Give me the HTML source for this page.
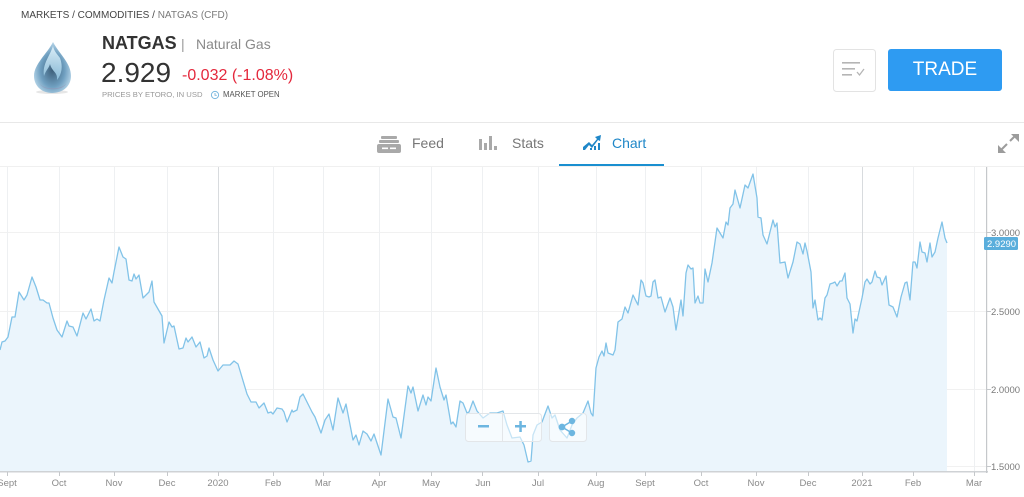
<!DOCTYPE html>
<html><head><meta charset="utf-8">
<style>
*{margin:0;padding:0;box-sizing:border-box}
html,body{width:1024px;height:497px;overflow:hidden;background:#fff;font-family:"Liberation Sans",sans-serif}
.a{position:absolute;white-space:nowrap}
</style></head><body>
<svg class="a" style="left:0;top:0" width="1024" height="497" viewBox="0 0 1024 497">
  <defs>
    <radialGradient id="dg" cx="50%" cy="55%" r="60%">
      <stop offset="0" stop-color="#3d5f7a"/>
      <stop offset="0.55" stop-color="#6f9fc0"/>
      <stop offset="1" stop-color="#c8e3f3"/>
    </radialGradient>
    <linearGradient id="fl" x1="0" y1="0" x2="0" y2="1">
      <stop offset="0" stop-color="#e3f3fb"/>
      <stop offset="1" stop-color="#8fc3e0"/>
    </linearGradient>
  </defs>
  <!-- drop icon -->
  <ellipse cx="52" cy="92" rx="16" ry="2" fill="#e6e6e6"/>
  <path d="M53,42 C47,54 34,64 34,76 C34,86 42,93 52,93 C63,93 71,86 71,76 C71,63 60,55 53,42 Z" fill="url(#dg)"/>
  <path d="M53,46 C50,56 42,64 44,76 C46,70 49,68 50,64 C52,72 58,72 57,80 C62,74 63,66 60,58 C57,54 54,51 53,46 Z" fill="url(#fl)" opacity="0.9"/>
  <path d="M40,84 C45,90 60,90 66,84 C62,91 44,91 40,84 Z" fill="#9a8fb0" opacity="0.6"/>

  <!-- header divider -->
  <rect x="0" y="122" width="1024" height="1" fill="#e8e8e8"/>
  <!-- tab underline -->
  <rect x="559" y="164" width="105" height="2" fill="#1a8fd0"/>
  <!-- chart top border -->
  <rect x="0" y="166" width="1024" height="1" fill="#f0f0f0"/>

  <!-- horizontal grid -->
  <g fill="#f1f1f1">
    <rect x="0" y="232" width="987" height="1"/>
    <rect x="0" y="311" width="987" height="1"/>
    <rect x="0" y="389" width="987" height="1"/>
    <rect x="0" y="466" width="987" height="1"/>
  </g>
  <!-- vertical grid -->
  <g fill="#eef0f2">
    <rect x="7" y="167" width="1" height="305"/>
    <rect x="59" y="167" width="1" height="305"/>
    <rect x="114" y="167" width="1" height="305"/>
    <rect x="167" y="167" width="1" height="305"/>
    <rect x="273" y="167" width="1" height="305"/>
    <rect x="323" y="167" width="1" height="305"/>
    <rect x="379" y="167" width="1" height="305"/>
    <rect x="431" y="167" width="1" height="305"/>
    <rect x="482" y="167" width="1" height="305"/>
    <rect x="538" y="167" width="1" height="305"/>
    <rect x="596" y="167" width="1" height="305"/>
    <rect x="645" y="167" width="1" height="305"/>
    <rect x="701" y="167" width="1" height="305"/>
    <rect x="756" y="167" width="1" height="305"/>
    <rect x="808" y="167" width="1" height="305"/>
    <rect x="913" y="167" width="1" height="305"/>
    <rect x="974" y="167" width="1" height="305"/>
  </g>
  <g fill="#d8dbde">
    <rect x="218" y="167" width="1" height="305"/>
    <rect x="862" y="167" width="1" height="305"/>
  </g>

  <!-- series -->
  <polygon fill="#ebf5fc" points="0,350 2,342 5,341 8,337 12,317 15,317 19,292 24,300 27,295 32,277 36,287 40,300 43,300 47,303 49,303 53,318 57,330 62,337 67,321 69,326 73,327 77,336 83,313 86,319 91,309 94,321 97,319 100,321 104,300 109,278 112,283 114,272 119,247 123,257 126,259 129,280 132,281 134,274 136,279 139,275 143,298 147,294 149,292 152,281 154,302 162,316 164,343 169,322 172,327 174,326 179,349 183,348 186,338 188,342 192,337 196,347 200,342 204,358 207,356 209,348 213,360 218,371 223,365 230,365 234,361 238,364 247,394 251,402 256,402 259,408 264,403 268,413 271,412 273,414 277,408 282,409 284,412 287,422 292,410 293,412 297,410 300,397 303,394 307,402 312,412 315,417 321,433 325,420 329,414 333,430 338,398 343,413 346,404 353,440 356,435 359,445 363,431 367,434 371,441 374,434 381,455 388,399 393,417 396,418 401,438 408,386 411,393 413,387 418,411 423,395 426,405 428,397 431,401 436,368 440,387 444,400 446,395 451,424 453,422 456,427 460,401 463,403 467,413 469,412 473,401 477,411 483,418 490,413 497,413 503,411 507,425 512,438 520,437 524,445 528,462 531,461 533,435 537,425 542,422 548,406 552,418 555,415 560,430 567,438 572,425 577,418 583,413 588,401 591,413 593,416 596,368 599,357 602,351 604,356 606,343 608,353 613,355 615,350 618,322 622,319 625,307 628,313 633,295 638,305 641,280 643,283 646,296 649,297 651,296 653,282 655,280 658,298 661,297 665,312 670,298 673,307 676,330 681,300 683,316 686,273 688,265 691,269 693,268 695,303 698,296 700,303 703,303 705,269 708,282 712,263 717,228 723,238 726,222 728,225 730,208 733,204 735,190 740,208 745,185 748,188 753,174 757,198 758,217 761,218 763,235 767,244 773,220 775,227 777,223 780,263 785,262 788,278 793,262 797,242 800,244 803,254 805,243 807,251 811,272 813,308 815,300 818,320 820,318 822,320 825,298 827,295 830,284 833,283 835,282 837,286 840,281 842,281 845,273 847,298 850,304 853,333 855,319 857,321 862,298 865,282 867,279 870,284 872,282 875,271 877,277 880,278 882,285 886,276 889,305 893,307 897,317 901,297 905,283 907,282 910,300 913,262 915,262 917,268 920,242 922,252 925,253 927,262 930,243 932,257 935,252 938,238 942,222 945,238 947,243 947,471 0,471"/>
  <polyline fill="none" stroke="#82c3e8" stroke-width="1.3" stroke-linejoin="round" points="0,350 2,342 5,341 8,337 12,317 15,317 19,292 24,300 27,295 32,277 36,287 40,300 43,300 47,303 49,303 53,318 57,330 62,337 67,321 69,326 73,327 77,336 83,313 86,319 91,309 94,321 97,319 100,321 104,300 109,278 112,283 114,272 119,247 123,257 126,259 129,280 132,281 134,274 136,279 139,275 143,298 147,294 149,292 152,281 154,302 162,316 164,343 169,322 172,327 174,326 179,349 183,348 186,338 188,342 192,337 196,347 200,342 204,358 207,356 209,348 213,360 218,371 223,365 230,365 234,361 238,364 247,394 251,402 256,402 259,408 264,403 268,413 271,412 273,414 277,408 282,409 284,412 287,422 292,410 293,412 297,410 300,397 303,394 307,402 312,412 315,417 321,433 325,420 329,414 333,430 338,398 343,413 346,404 353,440 356,435 359,445 363,431 367,434 371,441 374,434 381,455 388,399 393,417 396,418 401,438 408,386 411,393 413,387 418,411 423,395 426,405 428,397 431,401 436,368 440,387 444,400 446,395 451,424 453,422 456,427 460,401 463,403 467,413 469,412 473,401 477,411 483,418 490,413 497,413 503,411 507,425 512,438 520,437 524,445 528,462 531,461 533,435 537,425 542,422 548,406 552,418 555,415 560,430 567,438 572,425 577,418 583,413 588,401 591,413 593,416 596,368 599,357 602,351 604,356 606,343 608,353 613,355 615,350 618,322 622,319 625,307 628,313 633,295 638,305 641,280 643,283 646,296 649,297 651,296 653,282 655,280 658,298 661,297 665,312 670,298 673,307 676,330 681,300 683,316 686,273 688,265 691,269 693,268 695,303 698,296 700,303 703,303 705,269 708,282 712,263 717,228 723,238 726,222 728,225 730,208 733,204 735,190 740,208 745,185 748,188 753,174 757,198 758,217 761,218 763,235 767,244 773,220 775,227 777,223 780,263 785,262 788,278 793,262 797,242 800,244 803,254 805,243 807,251 811,272 813,308 815,300 818,320 820,318 822,320 825,298 827,295 830,284 833,283 835,282 837,286 840,281 842,281 845,273 847,298 850,304 853,333 855,319 857,321 862,298 865,282 867,279 870,284 872,282 875,271 877,277 880,278 882,285 886,276 889,305 893,307 897,317 901,297 905,283 907,282 910,300 913,262 915,262 917,268 920,242 922,252 925,253 927,262 930,243 932,257 935,252 938,238 942,222 945,238 947,243"/>

  <!-- axes -->
  <rect x="0" y="471" width="988" height="1.5" fill="#cfd2d5"/>
  <rect x="986" y="167" width="1.2" height="306" fill="#c5c8cb"/>
  <g fill="#c5c8cb">
    <rect x="7" y="472" width="1" height="4"/><rect x="59" y="472" width="1" height="4"/><rect x="114" y="472" width="1" height="4"/><rect x="167" y="472" width="1" height="4"/><rect x="218" y="472" width="1" height="4"/><rect x="273" y="472" width="1" height="4"/><rect x="323" y="472" width="1" height="4"/><rect x="379" y="472" width="1" height="4"/><rect x="431" y="472" width="1" height="4"/><rect x="482" y="472" width="1" height="4"/><rect x="538" y="472" width="1" height="4"/><rect x="596" y="472" width="1" height="4"/><rect x="645" y="472" width="1" height="4"/><rect x="701" y="472" width="1" height="4"/><rect x="756" y="472" width="1" height="4"/><rect x="808" y="472" width="1" height="4"/><rect x="862" y="472" width="1" height="4"/><rect x="913" y="472" width="1" height="4"/><rect x="974" y="472" width="1" height="4"/>
    <rect x="987" y="232" width="4" height="1"/><rect x="987" y="311" width="4" height="1"/><rect x="987" y="389" width="4" height="1"/><rect x="987" y="466" width="4" height="1"/>
  </g>
  <g font-family="Liberation Sans, sans-serif" font-size="9.5" fill="#8a8a8a" text-anchor="middle">
    <text x="7" y="486">Sept</text><text x="59" y="486">Oct</text><text x="114" y="486">Nov</text><text x="167" y="486">Dec</text><text x="218" y="486">2020</text><text x="273" y="486">Feb</text><text x="323" y="486">Mar</text><text x="379" y="486">Apr</text><text x="431" y="486">May</text><text x="483" y="486">Jun</text><text x="538" y="486">Jul</text><text x="596" y="486">Aug</text><text x="645" y="486">Sept</text><text x="701" y="486">Oct</text><text x="756" y="486">Nov</text><text x="808" y="486">Dec</text><text x="862" y="486">2021</text><text x="913" y="486">Feb</text><text x="974" y="486">Mar</text>
  </g>
  <g font-family="Liberation Sans, sans-serif" font-size="9.5" fill="#7a7a7a">
    <text x="991" y="236">3.0000</text><text x="991" y="315">2.5000</text><text x="991" y="393">2.0000</text><text x="991" y="470">1.5000</text>
  </g>
  <rect x="984" y="237" width="34" height="13" rx="1.5" fill="#5aaedc"/>
  <text x="987" y="247" font-family="Liberation Sans, sans-serif" font-size="9.5" fill="#fff">2.9290</text>

  <!-- zoom / share buttons -->
  <rect x="465.5" y="413.5" width="76" height="28" rx="3" fill="#fff" fill-opacity="0.55" stroke="#e3e6e9"/>
  <rect x="502" y="414" width="1" height="27" fill="#e3e6e9"/>
  <rect x="478" y="425" width="11" height="2.5" fill="#6db6e0"/>
  <rect x="515" y="425" width="11" height="2.5" fill="#6db6e0"/>
  <rect x="519.3" y="421" width="2.5" height="11" fill="#6db6e0"/>
  <rect x="549.5" y="413.5" width="37" height="28" rx="3" fill="#fff" fill-opacity="0.55" stroke="#e3e6e9"/>
  <g fill="#6db6e0" stroke="#6db6e0" stroke-width="1.6">
    <line x1="562" y1="427" x2="572" y2="421"/><line x1="562" y1="427" x2="572" y2="433"/>
    <circle cx="562" cy="427" r="2.6"/><circle cx="572" cy="421" r="2.4"/><circle cx="572" cy="433" r="2.4"/>
  </g>

  <!-- watchlist button -->
  <rect x="833.5" y="49.5" width="42" height="42" rx="3" fill="#fff" stroke="#e3e3e3"/>
  <g fill="#b5b5b5">
    <rect x="842" y="62" width="18" height="1.6"/><rect x="842" y="68" width="13" height="1.6"/><rect x="842" y="74" width="10" height="1.6"/>
  </g>
  <polyline points="857,72 859.5,75 864,69" fill="none" stroke="#b5b5b5" stroke-width="1.3"/>
  <!-- trade button -->
  <rect x="888" y="49" width="114" height="42" rx="3" fill="#2e9bf2"/>

  <!-- tab icons -->
  <g fill="#a9a9a9">
    <rect x="381" y="136" width="16" height="3" rx="1"/>
    <rect x="379" y="140" width="20" height="3" rx="1"/>
    <rect x="377" y="144" width="24" height="9" rx="2"/>
  </g>
  <rect x="382" y="147.5" width="6" height="1.6" fill="#fff"/>
  <rect x="390" y="147.5" width="6" height="1.6" fill="#fff"/>
  <g fill="#a9a9a9">
    <rect x="479" y="139" width="3" height="11"/><rect x="484" y="143" width="3" height="7"/><rect x="489" y="136" width="3" height="14"/><rect x="494" y="146" width="3" height="4"/>
  </g>
  <g fill="#1f87c8">
    <path d="M583,150 L583,147 L589,142 L592,145 L597,139 L595,137 L601,135 L600,141 L598,140 L592,148 L589,145 L585,150 Z"/>
    <rect x="590" y="148" width="2" height="2"/><rect x="594" y="146" width="2" height="4"/><rect x="598" y="143" width="2" height="7"/>
  </g>
  <!-- expand icon -->
  <g fill="#9c9c9c" stroke="#9c9c9c" stroke-width="2">
    <line x1="1001" y1="150" x2="1007" y2="144"/>
    <line x1="1010" y1="141" x2="1016" y2="135"/>
  </g>
  <path d="M998,153 L998,145 L1006,153 Z" fill="#9c9c9c"/>
  <path d="M1019,134 L1019,142 L1011,134 Z" fill="#9c9c9c"/>
  <!-- clock icon -->
  <circle cx="215" cy="95" r="3.6" fill="none" stroke="#7ab8df" stroke-width="1"/>
  <path d="M215,93 L215,95.3 L216.8,95.3" fill="none" stroke="#7ab8df" stroke-width="0.9"/>
</svg>

<div class="a" style="left:21px;top:10px;font-size:10px;color:#444;line-height:12px">MARKETS / COMMODITIES / <span style="color:#7a7a7a">NATGAS (CFD)</span></div>
<div class="a" style="left:102px;top:33px;font-size:18px;line-height:20px;color:#333;font-weight:bold">NATGAS</div>
<div class="a" style="left:181px;top:35px;font-size:14px;line-height:18px;color:#999">|</div>
<div class="a" style="left:196px;top:35px;font-size:14px;line-height:18px;color:#8a8a8a">Natural Gas</div>
<div class="a" style="left:101px;top:57px;font-size:28px;line-height:32px;color:#333">2.929</div>
<div class="a" style="left:182px;top:67px;font-size:16px;line-height:18px;color:#e4283c">-0.032 (-1.08%)</div>
<div class="a" style="left:102px;top:90px;font-size:7.7px;line-height:10px;color:#999">PRICES BY ETORO, IN USD</div>
<div class="a" style="left:223px;top:90px;font-size:7.8px;line-height:10px;color:#555">MARKET OPEN</div>
<div class="a" style="left:888px;top:58px;width:114px;text-align:center;font-size:19px;line-height:24px;color:#fff">TRADE</div>
<div class="a" style="left:412px;top:135px;font-size:14px;line-height:16px;color:#777">Feed</div>
<div class="a" style="left:512px;top:135px;font-size:14px;line-height:16px;color:#777">Stats</div>
<div class="a" style="left:612px;top:135px;font-size:14px;line-height:16px;color:#1f87c8">Chart</div>
</body></html>
